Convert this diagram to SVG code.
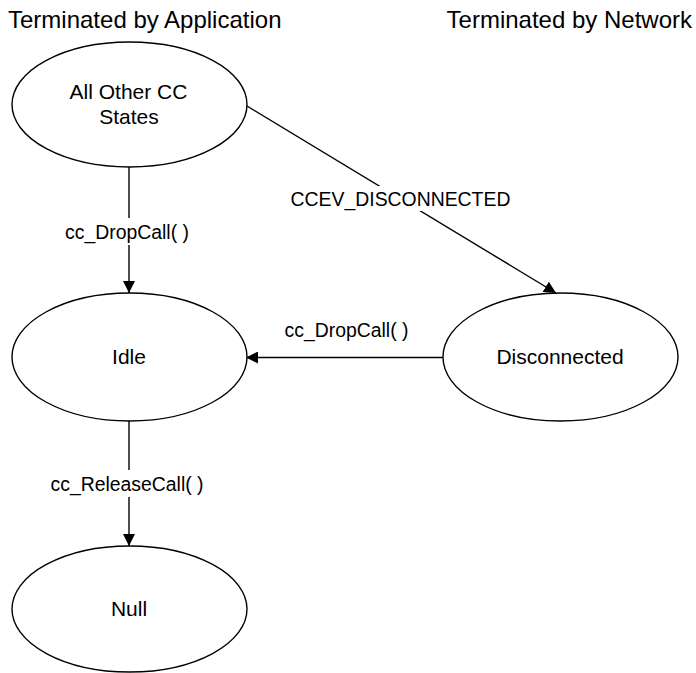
<svg xmlns="http://www.w3.org/2000/svg" width="696" height="673" viewBox="0 0 696 673">
<defs>
<marker id="arr" viewBox="0 0 12 12" refX="12" refY="6" markerWidth="12" markerHeight="12" markerUnits="userSpaceOnUse" orient="auto">
<path d="M0,0 L12,6 L0,12 Z" fill="#000"/>
</marker>
<style>
.node{fill:#fff;stroke:#000;stroke-width:1.4}
.conn{stroke:#000;stroke-width:1.4;fill:none;marker-end:url(#arr)}
.nt{font-family:"Liberation Sans",Arial,sans-serif;font-size:21px;fill:#000;text-anchor:middle}
.lt{font-family:"Liberation Sans",Arial,sans-serif;font-size:19.4px;fill:#000;text-anchor:middle}
.tt{font-family:"Liberation Sans",Arial,sans-serif;font-size:24px;fill:#000}
.bg{fill:#fff}
</style>
</defs>
<rect width="696" height="673" fill="#fff"/>
<text class="tt" x="8" y="27.5">Terminated by Application</text>
<text class="tt" x="692" y="27.5" text-anchor="end">Terminated by Network</text>
<g id="connectors">
<line class="conn" x1="129" y1="167" x2="129" y2="293"/>
<line class="conn" x1="247" y1="106" x2="556" y2="293"/>
<line class="conn" x1="443" y1="357.5" x2="246" y2="357.5"/>
<line class="conn" x1="129" y1="421" x2="129" y2="546"/>
<g id="labels">
<rect class="bg" x="70" y="218" width="118" height="27"/>
<text class="lt" x="127" y="239">cc_DropCall( )</text>
<rect class="bg" x="288" y="186" width="226" height="25"/>
<text class="lt" x="400.5" y="205.5">CCEV_DISCONNECTED</text>
<text class="lt" x="346.5" y="336.5">cc_DropCall( )</text>
<rect class="bg" x="48" y="470" width="158" height="27"/>
<text class="lt" x="127" y="490.5">cc_ReleaseCall( )</text>
</g>
</g>
<g id="allOther">
<ellipse class="node" cx="129.5" cy="104.5" rx="117.5" ry="62.5"/>
<text class="nt" x="128.5" y="99">All Other CC</text>
<text class="nt" x="129" y="124">States</text>
</g>
<g id="idle">
<ellipse class="node" cx="129.5" cy="357" rx="117.5" ry="64"/>
<text class="nt" x="129" y="363.5">Idle</text>
</g>
<g id="disconnected">
<ellipse class="node" cx="560.5" cy="357" rx="117.5" ry="64"/>
<text class="nt" x="560" y="364">Disconnected</text>
</g>
<g id="null">
<ellipse class="node" cx="129.5" cy="609" rx="117.5" ry="63"/>
<text class="nt" x="129" y="616">Null</text>
</g>
</svg>
